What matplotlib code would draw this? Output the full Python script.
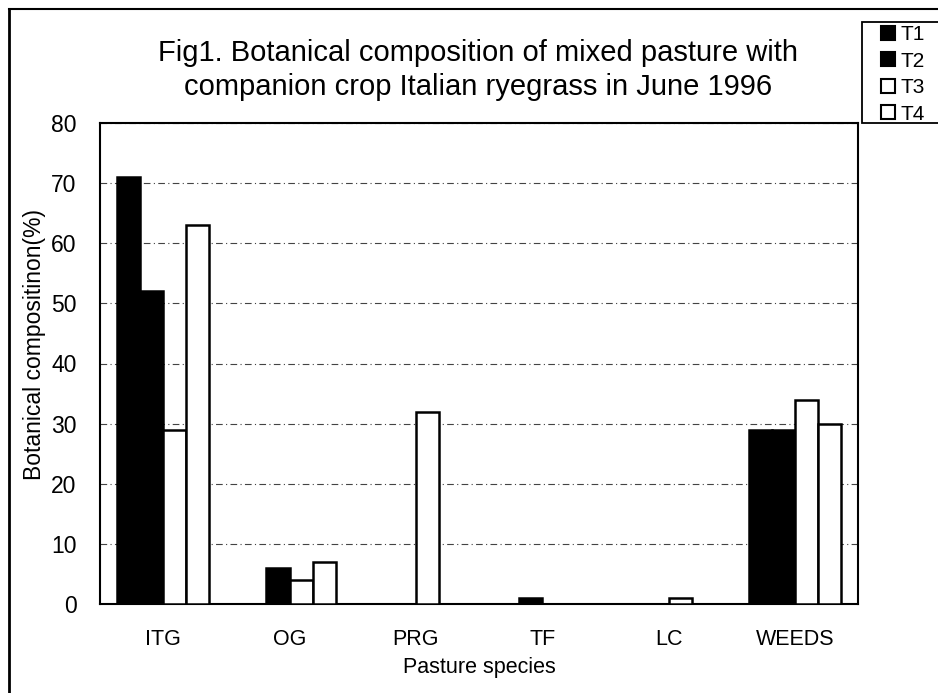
import matplotlib
matplotlib.use("Agg")
import matplotlib.pyplot as plt
from matplotlib.patches import Patch, Rectangle
from matplotlib.lines import Line2D
import numpy as np

plt.rcParams['font.family'] = ['Liberation Sans', 'DejaVu Sans']

species = ["ITG", "OG", "PRG", "TF", "LC", "WEEDS"]
t1 = [71, 0, 0, 0, 0, 29]
t2 = [52, 6, 0, 1, 0, 29]
t3 = [29, 4, 32, 0, 1, 34]
t4 = [63, 7, 0, 0, 0, 30]
treatments = ["T1", "T2", "T3", "T4"]

fig = plt.figure(figsize=(9.38, 6.93), dpi=100)
ax = fig.add_axes([100/938, 1-604/693, 758/938, 481/693])

x = np.arange(len(species))
w = 0.183
fills = ["black", "black", "white", "white"]
for k, vals in enumerate([t1, t2, t3, t4]):
    ax.bar(x + (k - 1.5)*w, vals, w, color=fills[k], edgecolor="black",
           linewidth=1.8, zorder=3)

ax.set_xlim(-0.5, 5.5)
ax.set_ylim(0, 80)
ax.set_yticks(range(0, 81, 10))
ax.set_xticks(x)
ax.set_xticklabels(species)
ax.tick_params(axis="x", length=0, labelsize=15.5, pad=18)
ax.tick_params(axis="y", length=0, labelsize=16.5, pad=17)
ax.yaxis.grid(True, color="#444444", linestyle=(0, (6, 3, 1, 3)), linewidth=0.8)
for s in ax.spines.values():
    s.set_linewidth(1.5)

ax.set_ylabel("Botanical compositinon(%)", fontsize=16.5)
ax.yaxis.set_label_coords(-54/758, 0.54)
ax.set_xlabel("Pasture species", fontsize=15.5)
ax.xaxis.set_label_coords(0.5, -53/481)

fig.text(0.51, 1-70/693, "Fig1. Botanical composition of mixed pasture with\ncompanion crop Italian ryegrass in June 1996",
         ha="center", va="center", fontsize=21, linespacing=1.3)

# legend box runs off the right edge
fig.add_artist(Rectangle((862/938, 1-123/693), 80/938, 101/693, transform=fig.transFigure,
                         facecolor="white", edgecolor="black", linewidth=1.3))
handles = [Patch(facecolor=fills[k], edgecolor="black", linewidth=1.5) for k in range(4)]
leg = fig.legend(handles, treatments, loc="upper left",
                 bbox_to_anchor=(878/938, 1-22/693), fontsize=15,
                 handlelength=0.65, handleheight=0.65, handletextpad=0.3,
                 labelspacing=0.36, borderpad=0.15, borderaxespad=0,
                 frameon=False)

# outer frame
fig.add_artist(Line2D([9/938, 9/938], [0, 1-9/693], color="black", lw=2))
fig.add_artist(Line2D([9/938, 1], [1-9/693, 1-9/693], color="black", lw=1.5))

fig.savefig("out.png", dpi=100)
